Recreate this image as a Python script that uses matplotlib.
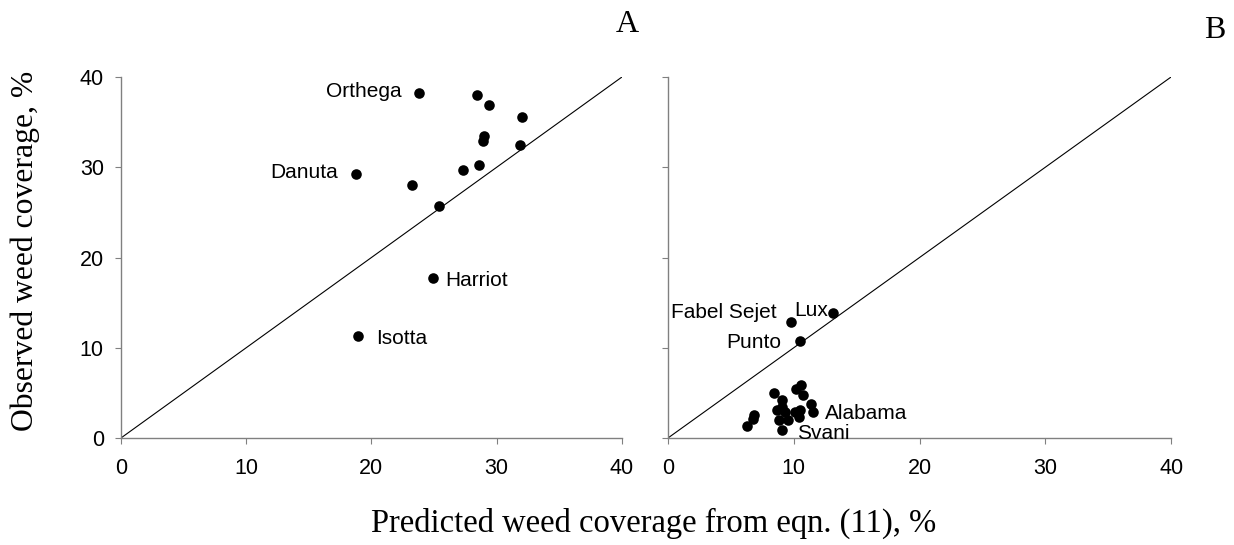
import matplotlib
matplotlib.use("Agg")
import matplotlib.pyplot as plt

# Panel A: predicted vs observed weed coverage (%)
pred_a = [23.8, 28.4, 29.4, 32.0, 29.0, 28.9, 31.9, 28.6, 27.3, 18.8, 23.2, 25.4, 24.9, 18.9]
obs_a = [38.2, 38.0, 36.9, 35.6, 33.5, 32.9, 32.5, 30.2, 29.7, 29.2, 28.0, 25.7, 17.7, 11.3]

# Panel B
pred_b = [13.1, 9.8, 10.5, 8.4, 10.2, 10.6, 10.7, 9.05, 9.05, 8.65, 11.4, 11.5, 10.5,
          10.1, 9.55, 8.8, 9.05, 6.85, 6.8, 6.3, 9.3, 10.4]
obs_b = [13.8, 12.9, 10.7, 5.0, 5.4, 5.9, 4.8, 4.2, 3.4, 3.1, 3.8, 2.9, 3.1,
         2.9, 2.0, 2.0, 0.9, 2.6, 2.1, 1.3, 2.9, 2.3]

# Cultivar labels: (text, x, y, ha)
labels_a = [("Orthega", 22.4, 38.4, "right"), ("Danuta", 17.3, 29.4, "right"),
            ("Harriot", 25.9, 17.4, "left"), ("Isotta", 20.4, 11.0, "left")]
labels_b = [("Fabel Sejet", 8.6, 13.9, "right"), ("Lux", 10.05, 14.1, "left"),
            ("Punto", 9.0, 10.6, "right"), ("Alabama", 12.5, 2.7, "left"),
            ("Svani", 10.3, 0.5, "left")]

ticks = [0, 10, 20, 30, 40]

plt.rcParams["font.family"] = ["Liberation Sans", "DejaVu Sans"]
fig = plt.figure(figsize=(12.34, 5.45), dpi=100)
ax_a = fig.add_axes([0.098, 0.1963, 0.406, 0.6624])
ax_b = fig.add_axes([0.5413, 0.1963, 0.4077, 0.6624])

for ax, px, py, labs, show_y in [(ax_a, pred_a, obs_a, labels_a, True),
                                  (ax_b, pred_b, obs_b, labels_b, False)]:
    ax.plot([0, 40], [0, 40], color="black", lw=0.8)
    ax.scatter(px, py, s=58, color="black", zorder=3, clip_on=False, linewidths=0)
    for txt, x, y, ha in labs:
        ax.text(x, y, txt, ha=ha, va="center", fontsize=15)
    ax.set_xlim(0, 40)
    ax.set_ylim(0, 40)
    ax.set_xticks(ticks)
    ax.set_yticks(ticks)
    if not show_y:
        ax.set_yticklabels([])
    for side in ("top", "right"):
        ax.spines[side].set_visible(False)
    for side in ("left", "bottom"):
        ax.spines[side].set_color("#808080")
        ax.spines[side].set_linewidth(1.0)
    ax.tick_params(direction="out", length=4.3, width=0.8, color="#808080",
                   labelsize=15.5)
    ax.tick_params(axis="x", pad=10)
    ax.tick_params(axis="y", pad=8)

serif = ["Liberation Serif", "DejaVu Serif"]
fig.text(0.0207, 0.539, "Observed weed coverage, %", rotation=90, ha="center",
         va="center", fontsize=22.8, family=serif)
fig.text(0.53, 0.0239, "Predicted weed coverage from eqn. (11), %", ha="center",
         va="baseline", fontsize=23.5, family=serif)
fig.text(0.508, 0.9407, "A", ha="center", va="baseline", fontsize=23, family=serif)
fig.text(0.984, 0.9309, "B", ha="center", va="baseline", fontsize=23, family=serif)

fig.savefig("out.png", dpi=100)
